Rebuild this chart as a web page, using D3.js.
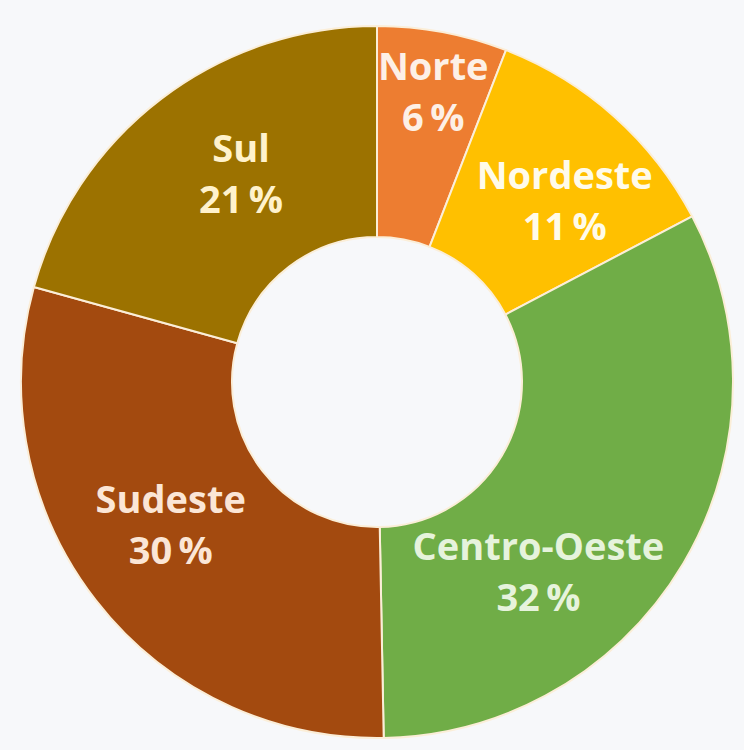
<!DOCTYPE html>
<html>
<head>
<meta charset="utf-8">
<script src="https://cdnjs.cloudflare.com/ajax/libs/d3/7.8.5/d3.min.js"></script>
<style>
  body { margin: 0; background: #f7f8fa; }
  svg { display: block; }
  .lbl { font-family: "Open Sans", "Noto Sans", sans-serif; font-weight: 700; font-size: 38px; }
</style>
</head>
<body>
<svg id="chart" width="744" height="750"></svg>
<script>
// regions, slice shares (%) and the rounded labels printed on the chart
const regions = ["Norte", "Nordeste", "Centro-Oeste", "Sudeste", "Sul"];
const shares = [5.9, 11.4, 32.4, 29.6, 20.7];
const pctLabels = [6, 11, 32, 30, 21];

const colors = ["#ed7d31", "#ffc000", "#70ad47", "#a34a0f", "#9c7200"];
const textColors = ["#fdf0e6", "#fffbea", "#e6f3dc", "#fbe6d6", "#fff2cc"];

// label placement tweaks (radius, angle shift in degrees)
const labelPos = {
  "Norte": [297, 0.3],
  "Nordeste": [262, 4],
  "Centro-Oeste": [248, 18.8],
  "Sudeste": [250, 3.4],
  "Sul": [250, 4.3]
};

const cx = 377, cy = 382, rOuter = 356, rInner = 145;

const svg = d3.select("#chart");
const g = svg.append("g").attr("transform", `translate(${cx},${cy})`);

const data = regions.map((r, i) => ({ name: r, value: shares[i], pct: pctLabels[i], color: colors[i], tc: textColors[i] }));

const pie = d3.pie().value(d => d.value).sort(null);
const arc = d3.arc().innerRadius(rInner).outerRadius(rOuter);
const arcs = pie(data);

g.selectAll("path.slice")
  .data(arcs)
  .enter()
  .append("path")
    .attr("class", "slice")
    .attr("d", arc)
    .attr("fill", d => d.data.color)
    .attr("stroke", "#fbeed8")
    .attr("stroke-width", 2);

const lbl = g.selectAll("g.lbl")
  .data(arcs)
  .enter()
  .append("g")
    .attr("class", "lbl")
    .attr("fill", d => d.data.tc)
    .attr("transform", d => {
      const p = labelPos[d.data.name];
      const a = (d.startAngle + d.endAngle) / 2 + p[1] * Math.PI / 180;
      return `translate(${p[0] * Math.sin(a)},${-p[0] * Math.cos(a)})`;
    });

lbl.append("text")
  .attr("text-anchor", "middle")
  .attr("y", -10)
  .text(d => d.data.name);

lbl.append("text")
  .attr("text-anchor", "middle")
  .attr("y", 41)
  .text(d => d.data.pct + "\u2009%");
</script>
</body>
</html>
